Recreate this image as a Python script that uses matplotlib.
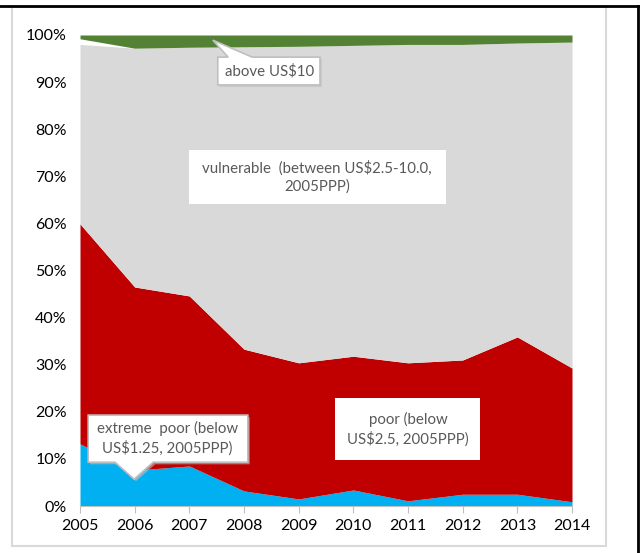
import numpy as np
import matplotlib.pyplot as plt
from matplotlib.patches import Polygon, Rectangle
from matplotlib.lines import Line2D

plt.rcParams['font.family'] = ['Lato', 'DejaVu Sans']

years = [2005, 2006, 2007, 2008, 2009, 2010, 2011, 2012, 2013, 2014]
# shares of population, %
extreme_poor = [13.2, 7.6, 8.5, 3.2, 1.5, 3.4, 1.1, 2.5, 2.5, 0.9]
poor = [46.7, 38.9, 36.1, 30.1, 28.9, 28.4, 29.3, 28.5, 33.4, 28.4]
vulnerable = [38.1, 50.7, 52.8, 64.2, 67.2, 66.0, 67.6, 67.0, 62.4, 69.2]
above10 = [0.8, 2.8, 2.6, 2.5, 2.4, 2.2, 2.0, 2.0, 1.7, 1.5]

c_blue = '#00B0F0'
c_red = '#C00000'
c_grey = '#D9D9D9'
c_green = '#548235'
txt = '#595959'

x = np.array(years)
b1 = np.array(extreme_poor)
b2 = b1 + np.array(poor)
b3 = b2 + np.array(vulnerable)

fig = plt.figure(figsize=(6.4, 5.53), dpi=100)
ax = fig.add_axes([80/640, 1-506/553, (572-80)/640, (506-35)/553])

ax.fill_between(x, 0, b1, color=c_blue, lw=0)
ax.fill_between(x, b1, b2, color=c_red, lw=0)
ax.fill_between(x, b2, b3, color=c_grey, lw=0)
ax.fill_between(x, 100 - np.array(above10), 100, color=c_green, lw=0)

ax.set_xlim(2005, 2014)
ax.set_ylim(0, 100)
ax.set_xticks(years)
ax.set_yticks(range(0, 101, 10))
ax.set_yticklabels([f'{v}%' for v in range(0, 101, 10)])
for s in ['top', 'right', 'left']:
    ax.spines[s].set_visible(False)
ax.spines['bottom'].set_color('#BFBFBF')
ax.tick_params(axis='x', colors='#BFBFBF', length=5, labelcolor='black', labelsize=11.5, pad=4)
ax.tick_params(axis='y', length=0, labelcolor='black', labelsize=11.5, pad=9.5)
ax.set_facecolor('none')


def callout(pts, tx, ty, label, shadow=True, edge='#BFBFBF'):
    if shadow:
        sh = Polygon([(px + 0.035, py - 0.45) for px, py in pts], closed=True,
                     facecolor='#BFBFBF', edgecolor='none', alpha=0.6, zorder=4)
        ax.add_patch(sh)
    ax.add_patch(Polygon(pts, closed=True, facecolor='white', edgecolor=edge,
                         lw=1.2 if edge != 'none' else 0, zorder=5))
    ax.text(tx, ty, label, ha='center', va='center', color=txt, fontsize=10.8,
            linespacing=1.35, zorder=6)


# extreme poor
callout([(2005.15, 19.3), (2008.07, 19.3), (2008.07, 9.3), (2006.34, 9.3),
         (2005.99, 5.7), (2005.64, 9.3), (2005.15, 9.3)],
        2006.6, 14.4, 'extreme  poor (below\nUS$1.25, 2005PPP)')
# above US$10
callout([(2007.52, 95.3), (2007.71, 95.3), (2007.43, 98.9), (2008.15, 95.3),
         (2009.39, 95.3), (2009.39, 89.4), (2007.52, 89.4)],
        2008.46, 92.4, 'above US$10')
# vulnerable
callout([(2006.99, 75.6), (2011.69, 75.6), (2011.69, 64.1), (2006.99, 64.1)],
        2009.34, 69.9, 'vulnerable  (between US$2.5-10.0,\n2005PPP)', shadow=False, edge='none')
# poor
callout([(2009.66, 22.9), (2012.32, 22.9), (2012.32, 9.8), (2009.66, 9.8)],
        2011.0, 16.3, 'poor (below\nUS$2.5, 2005PPP)', shadow=False, edge='none')

# chart frame and screenshot edges
fig.patches.append(Rectangle((12/640, 1-546/553), (606-12)/640, (546-7)/553,
                             transform=fig.transFigure, facecolor='none',
                             edgecolor='#D9D9D9', lw=1.5))
fig.lines.append(Line2D([0, 1], [1-6/553, 1-6/553], transform=fig.transFigure, color='black', lw=2))
fig.lines.append(Line2D([638/640, 638/640], [0, 1-6/553], transform=fig.transFigure, color='black', lw=2))

fig.savefig('out.png', dpi=100)
